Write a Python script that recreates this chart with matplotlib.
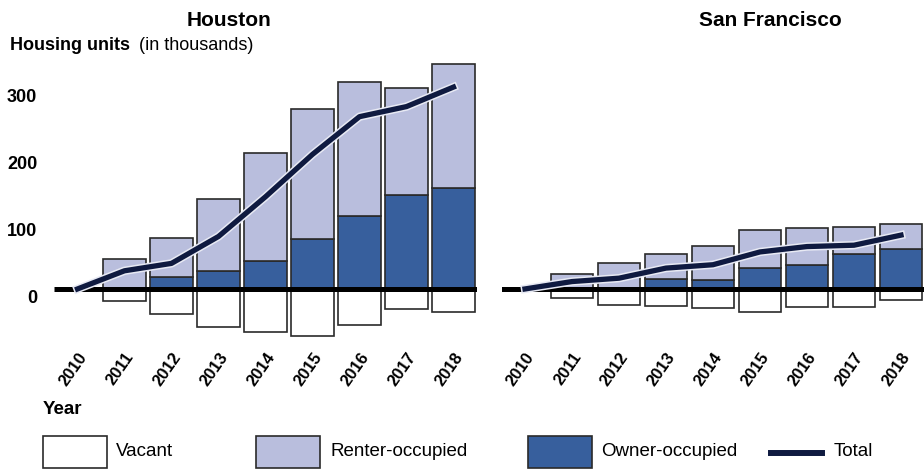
import matplotlib
matplotlib.use("Agg")
import matplotlib.pyplot as plt
import matplotlib.patheffects as pe
from matplotlib.patches import Rectangle
from matplotlib.lines import Line2D
from matplotlib.transforms import ScaledTranslation

plt.rcParams['font.family'] = ['Liberation Sans', 'DejaVu Sans']

years = [2010, 2011, 2012, 2013, 2014, 2015, 2016, 2017, 2018]
bar_years = years[1:]

# Houston (thousands of housing units)
hou_owner = [0, 18, 26, 42, 74, 108, 140, 150]
hou_renter = [44, 58, 108, 160, 194, 200, 159, 184]
hou_vacant = [-18, -37, -56, -64, -70, -53, -30, -34]
hou_total = [0, 27, 38, 78, 137, 200, 256, 271, 300]

# San Francisco
sf_owner = [0, 0, 15, 13, 31, 35, 52, 60]
sf_renter = [22, 38, 37, 51, 57, 55, 40, 37]
sf_vacant = [-14, -24, -26, -29, -34, -27, -27, -17]
sf_total = [0, 11, 16, 31, 36, 55, 63, 65, 80]

yticks = [0, 100, 200, 300]

c_owner = '#375f9d'
c_renter = '#b9bedd'
c_total = '#0f1a40'
c_edge = '#2a2a2a'

fig = plt.figure(figsize=(9.24, 4.74), dpi=100)
ax1 = fig.add_axes([54 / 924, 0.2768, 423 / 924, 0.6105])
ax2 = fig.add_axes([501.5 / 924, 0.2768, 423 / 924, 0.6105])

xoff = ScaledTranslation(-0.06, 0, fig.dpi_scale_trans)


def draw(ax, owner, renter, vacant, total):
    ax.bar(bar_years, owner, width=0.9, color=c_owner, edgecolor=c_edge, linewidth=1.2, zorder=2)
    ax.bar(bar_years, renter, bottom=owner, width=0.9, color=c_renter, edgecolor=c_edge, linewidth=1.2, zorder=2)
    ax.bar(bar_years, vacant, width=0.9, color='white', edgecolor=c_edge, linewidth=1.2, zorder=2)
    ax.plot([2009.5, 2018.5], [0, 0], color='black', lw=3.6, zorder=3, solid_capstyle='butt')
    ax.plot(years, total, color=c_total, lw=3.8, zorder=4,
            path_effects=[pe.withStroke(linewidth=6, foreground='#e8eaf4')])
    ax.set_xlim(2009.5, 2018.5)
    ax.set_ylim(-80, 350)
    ax.set_xticks(years)
    ax.set_xticklabels([str(y) for y in years], rotation=55, ha='right',
                       rotation_mode='anchor', fontweight='bold', fontsize=12)
    for lab in ax.get_xticklabels():
        lab.set_transform(lab.get_transform() + xoff)
    ax.tick_params(length=0, pad=5)
    for s in ax.spines.values():
        s.set_visible(False)


draw(ax1, hou_owner, hou_renter, hou_vacant, hou_total)
draw(ax2, sf_owner, sf_renter, sf_vacant, sf_total)

ax1.set_yticks(yticks)
ax1.set_yticklabels([str(v) for v in yticks], fontweight='bold', fontsize=13)
ax1.tick_params(axis='y', pad=12)
off = ScaledTranslation(0, -0.08, fig.dpi_scale_trans)
for lab in ax1.get_yticklabels():
    lab.set_transform(lab.get_transform() + off)
ax2.set_yticks([])

fig.text(229 / 924, 1 - 21 / 474, 'Houston', ha='center', va='center', fontweight='bold', fontsize=15)
fig.text(770 / 924, 1 - 21 / 474, 'San Francisco', ha='center', va='center', fontweight='bold', fontsize=15)
fig.text(10 / 924, 1 - 46 / 474, 'Housing units', ha='left', va='center', fontweight='bold', fontsize=13)
fig.text(139 / 924, 1 - 46 / 474, '(in thousands)', ha='left', va='center', fontsize=13)
fig.text(43 / 924, 1 - 410 / 474, 'Year', ha='left', va='center', fontweight='bold', fontsize=13.5)

# legend
items = [(43, 116, 'white', 'Vacant'), (256, 331, c_renter, 'Renter-occupied'),
         (528, 601, c_owner, 'Owner-occupied')]
for x0, xt, col, txt in items:
    fig.patches.append(Rectangle((x0 / 924, 1 - 468 / 474), 64 / 924, 32 / 474,
                                 facecolor=col, edgecolor=c_edge, linewidth=1.2,
                                 transform=fig.transFigure))
    fig.text(xt / 924, 1 - 452 / 474, txt, ha='left', va='center', fontsize=13.5)
fig.lines.append(Line2D([771 / 924, 822 / 924], [1 - 453 / 474] * 2, color=c_total, lw=4.3,
                        transform=fig.transFigure))
fig.text(834 / 924, 1 - 452 / 474, 'Total', ha='left', va='center', fontsize=13.5)

fig.savefig('out.png', dpi=100)
